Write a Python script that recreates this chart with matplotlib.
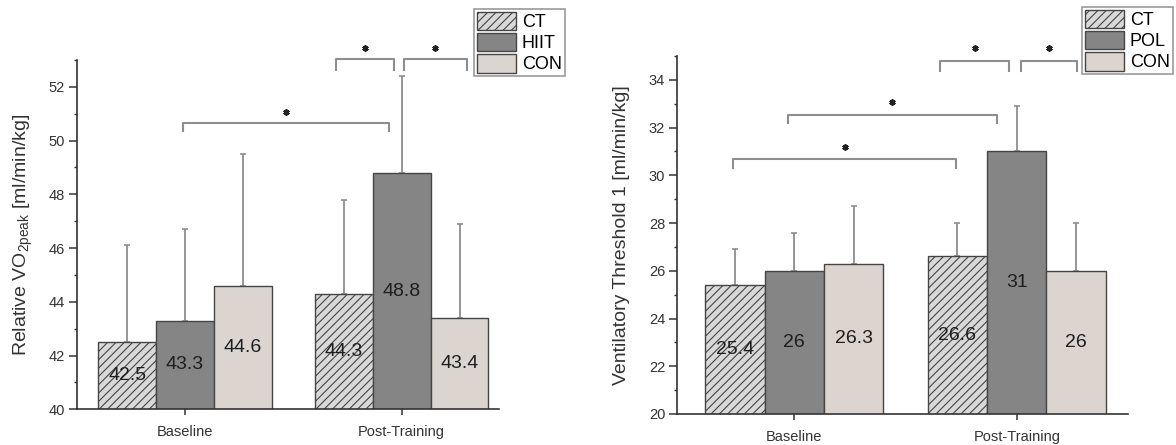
import numpy as np
import matplotlib.pyplot as plt
from matplotlib.ticker import MultipleLocator

plt.rcParams['font.family'] = ['Liberation Sans', 'DejaVu Sans']
plt.rcParams['mathtext.default'] = 'regular'
plt.rcParams['hatch.linewidth'] = 0.8

groups = ['Baseline', 'Post-Training']

# panel 1: relative VO2peak
vo2_ct = [42.5, 44.3]
vo2_hiit = [43.3, 48.8]
vo2_con = [44.6, 43.4]
vo2_ct_sd = [3.6, 3.5]
vo2_hiit_sd = [3.4, 3.6]
vo2_con_sd = [4.9, 3.5]

# panel 2: ventilatory threshold 1
vt1_ct = [25.4, 26.6]
vt1_pol = [26.0, 31.0]
vt1_con = [26.3, 26.0]
vt1_ct_sd = [1.5, 1.4]
vt1_pol_sd = [1.6, 1.9]
vt1_con_sd = [2.4, 2.0]

# significance brackets (x start, x end, top y, end y)
vo2_sig = [(-0.01, 0.943, 50.64, 50.35),
           (0.695, 0.966, 53.02, 52.62),
           (1.012, 1.30, 53.02, 52.62)]
vt1_sig = [(-0.274, 0.727, 30.68, 30.30),
           (-0.027, 0.91, 32.54, 32.21),
           (0.655, 0.967, 34.81, 34.39),
           (1.018, 1.27, 34.81, 34.39)]

W = 0.267
FILLS = ['#d9d9d9', '#858585', '#dcd5cf']
HATCHES = ['////', None, None]
EDGE = '#454545'
GREY = '#8e8e8e'


def draw_panel(ax, series, errs, names, sig, ylim, ylabel, xlim, star_gap, leg_anchor):
    x = np.arange(len(groups))
    handles = []
    for i, (vals, err) in enumerate(zip(series, errs)):
        pos = x + (i - 1) * W
        ax.errorbar(pos, vals, yerr=[np.zeros(len(err)), err], fmt='none',
                    ecolor=GREY, elinewidth=1.3, capsize=2.5, capthick=1.2, zorder=1)
        bars = ax.bar(pos, vals, W, bottom=0, color=FILLS[i], edgecolor=EDGE,
                      linewidth=1.0, hatch=HATCHES[i], zorder=2)
        ax.bar_label(bars, fmt='%g', label_type='center', fontsize=14, color='#1e1e1e')
        handles.append(bars)

    for x0, x1, ytop, yend in sig:
        ax.plot([x0, x0, x1, x1], [yend, ytop, ytop, yend], color=GREY, lw=1.5,
                clip_on=False, zorder=3)
        ax.plot([(x0 + x1) / 2], [ytop + star_gap], marker=(6, 2, 0), ms=4.5, mew=1.3,
                color='#222222', clip_on=False)

    ax.set_ylim(*ylim)
    ax.set_xlim(*xlim)
    ax.set_xticks(x)
    ax.set_xticklabels(groups, fontsize=10.5, color='#333333')
    ax.yaxis.set_major_locator(MultipleLocator(2))
    ax.yaxis.set_minor_locator(MultipleLocator(1))
    ax.tick_params(axis='y', which='major', length=6, width=1.1, pad=2.5,
                   labelsize=10.5, labelcolor='#333333', color='#333333')
    ax.tick_params(axis='y', which='minor', length=2.5, width=1.0, color='#333333')
    ax.tick_params(axis='x', length=4.5, width=1.1, pad=7, color='#333333')
    for s in ['top', 'right']:
        ax.spines[s].set_visible(False)
    for s in ['left', 'bottom']:
        ax.spines[s].set_linewidth(1.2)
        ax.spines[s].set_color('#333333')
    ax.set_ylabel(ylabel, fontsize=14, color='#333333')

    leg = ax.legend(handles, names, loc='upper left', bbox_to_anchor=leg_anchor,
                    bbox_transform=ax.figure.transFigure, fontsize=13,
                    handlelength=2.2, handleheight=1.2, labelspacing=0.1,
                    borderpad=0.15, handletextpad=0.3, borderaxespad=0,
                    fancybox=False, edgecolor='#9a9a9a', framealpha=1)
    leg.get_frame().set_linewidth(1.2)


fig = plt.figure(figsize=(11.76, 4.45), dpi=100)
ax1 = fig.add_axes([77 / 1176, 1 - 409.3 / 445, 422 / 1176, 349.3 / 445])
ax2 = fig.add_axes([677 / 1176, 1 - 414 / 445, 451 / 1176, 358 / 445])

draw_panel(ax1, [vo2_ct, vo2_hiit, vo2_con], [vo2_ct_sd, vo2_hiit_sd, vo2_con_sd],
           ['CT', 'HIIT', 'CON'], vo2_sig, (40, 53),
           'Relative VO$_{2peak}$ [ml/min/kg]', (-0.498, 1.449), 0.43,
           (474 / 1176, 1 - 9 / 445))
draw_panel(ax2, [vt1_ct, vt1_pol, vt1_con], [vt1_ct_sd, vt1_pol_sd, vt1_con_sd],
           ['CT', 'POL', 'CON'], vt1_sig, (20, 35),
           'Ventilatory Threshold 1 [ml/min/kg]', (-0.527, 1.50), 0.52,
           (1082 / 1176, 1 - 7 / 445))

ax1.yaxis.set_label_coords(-0.100, 0.5)
ax2.yaxis.set_label_coords(-0.104, 0.5)

fig.savefig('out.png', dpi=100)
